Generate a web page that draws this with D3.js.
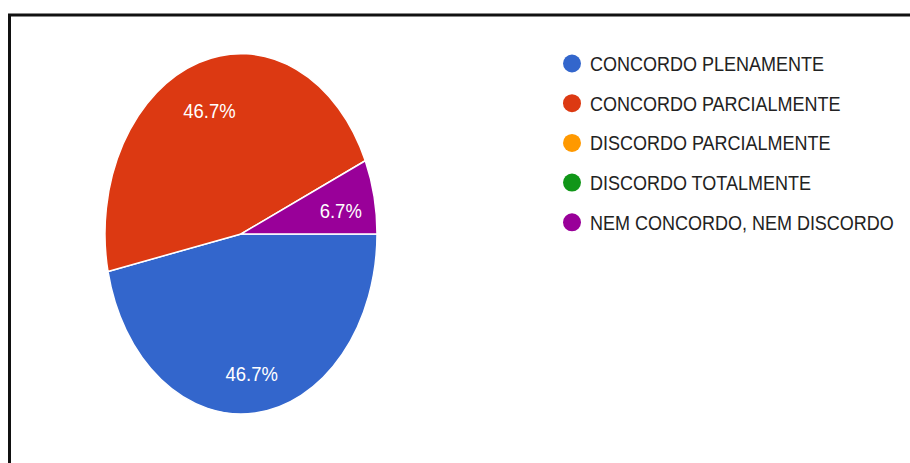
<!DOCTYPE html>
<html>
<head>
<meta charset="utf-8">
<script src="https://cdn.jsdelivr.net/npm/d3@7"></script>
<style>
  html, body { margin: 0; padding: 0; background: #fff; }
  svg { display: block; }
  text { font-family: "Liberation Sans", Arial, sans-serif; }
</style>
</head>
<body>
<svg id="chart" width="910" height="463"></svg>
<script>
// Response categories and their counts (15 answers in total)
const categories = [
  "CONCORDO PLENAMENTE",
  "CONCORDO PARCIALMENTE",
  "DISCORDO PARCIALMENTE",
  "DISCORDO TOTALMENTE",
  "NEM CONCORDO, NEM DISCORDO"
];
const counts = [7, 7, 0, 0, 1];
const colors = ["#3366cc", "#dc3912", "#ff9900", "#109618", "#990099"];

const W = 910, H = 463;
const svg = d3.select("#chart");

// Frame around the panel
svg.append("path")
  .attr("d", `M9.5,${H + 2} V15 H${W + 2}`)
  .attr("fill", "none")
  .attr("stroke", "#111")
  .attr("stroke-width", 3);

// Pie, drawn on a unit circle and stretched to an ellipse
const cx = 241, cy = 234, rx = 136, ry = 180;
const total = d3.sum(counts);
const data = categories.map((c, i) => ({ name: c, value: counts[i], color: colors[i] }));

const pie = d3.pie()
  .value(d => d.value)
  .sort(null)
  .startAngle(Math.PI / 2)
  .endAngle(Math.PI / 2 + 2 * Math.PI);

const arcs = pie(data);
const arc = d3.arc().innerRadius(0).outerRadius(1);
const labelArc = d3.arc().innerRadius(0).outerRadius(1.5);

const pieG = svg.append("g")
  .attr("transform", `translate(${cx},${cy}) scale(${rx},${ry})`);

pieG.selectAll("path")
  .data(arcs.filter(a => a.data.value > 0))
  .join("path")
  .attr("d", arc)
  .attr("fill", d => d.data.color)
  .attr("stroke", "#fff")
  .attr("stroke-width", 1.5)
  .attr("vector-effect", "non-scaling-stroke");

const pct = d3.format(".1%");
svg.append("g")
  .selectAll("text")
  .data(arcs.filter(a => a.data.value > 0))
  .join("text")
  .attr("transform", d => {
    const [x, y] = labelArc.centroid(d);
    return `translate(${cx + x * rx},${cy + y * ry + 5}) scale(0.88,1)`;
  })
  .attr("text-anchor", "middle")
  .attr("dominant-baseline", "central")
  .attr("font-size", 21)
  .attr("fill", "#fff")
  .text(d => pct(d.data.value / total));

// Legend
const legendY0 = 63.5, legendStep = 39.7;
const legend = svg.append("g")
  .selectAll("g")
  .data(data)
  .join("g")
  .attr("transform", (d, i) => `translate(572,${legendY0 + i * legendStep})`);

legend.append("circle")
  .attr("r", 9)
  .attr("fill", d => d.color);

legend.append("text")
  .attr("transform", "translate(18,7.5) scale(0.9,1)")
  .attr("font-size", 20)
  .attr("fill", "#222")
  .text(d => d.name);
</script>
</body>
</html>
